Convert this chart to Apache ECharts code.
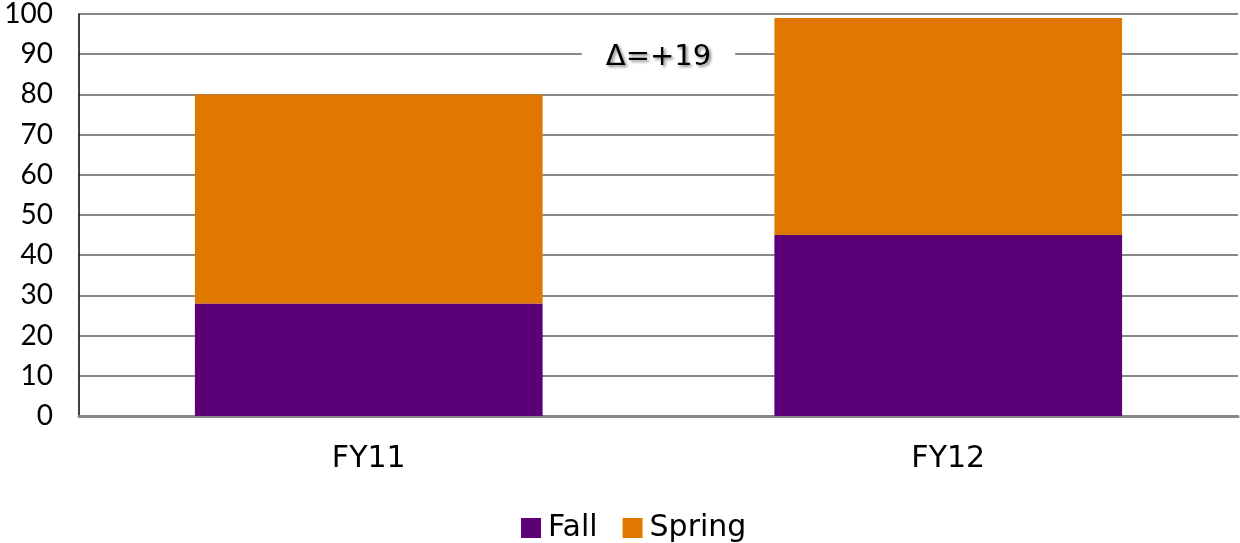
<!DOCTYPE html>
<html>
<head>
<meta charset="utf-8">
<style>
  html, body { margin: 0; padding: 0; background: #fff; }
  #chart { width: 1240px; height: 543px; }
</style>
<script src="https://cdn.jsdelivr.net/npm/echarts@6/dist/echarts.min.js"></script>
</head>
<body>
<div id="chart"></div>
<script>
const categories = ['FY11', 'FY12'];
const fallValues = [28, 45];
const springValues = [52, 54];
const deltaText = '\u0394=+19';

const NUM_FONT = 'Lato, "Noto Sans", sans-serif';
const TEXT_FONT = '"DejaVu Sans", sans-serif';
const chart = echarts.init(document.getElementById('chart'));

chart.setOption({
  animation: false,
  grid: { left: 79, right: 2, top: 14, bottom: 127 },
  legend: {
    top: 508,
    left: 516,
    itemWidth: 20,
    itemHeight: 20,
    itemGap: 25,
    icon: 'rect',
    textStyle: { fontFamily: TEXT_FONT, fontSize: 30, color: '#000', padding: [0, 0, 0, 2] },
    data: ['Fall', 'Spring']
  },
  xAxis: {
    type: 'category',
    data: categories,
    axisLine: { show: true, lineStyle: { color: '#888', width: 3 } },
    axisTick: { show: false },
    axisLabel: { fontFamily: TEXT_FONT, fontSize: 30, color: '#000', margin: 28 }
  },
  yAxis: {
    type: 'value',
    min: 0,
    max: 100,
    interval: 10,
    axisLine: { show: true, lineStyle: { color: '#000', width: 1.5 } },
    axisTick: { show: false },
    axisLabel: { fontFamily: NUM_FONT, fontSize: 28, color: '#000', margin: 26 },
    splitLine: { show: true, lineStyle: { color: '#888', width: 2 } }
  },
  series: [
    {
      name: 'Fall',
      type: 'bar',
      stack: 'total',
      barWidth: '60%',
      itemStyle: { color: '#5B0076' },
      data: fallValues
    },
    {
      name: 'Spring',
      type: 'bar',
      stack: 'total',
      barWidth: '60%',
      itemStyle: { color: '#E07800' },
      data: springValues
    }
  ]
});

// Place the change annotation between the two bars, on the 90 gridline.
const left = chart.convertToPixel({ xAxisIndex: 0 }, categories[0]);
const right = chart.convertToPixel({ xAxisIndex: 0 }, categories[1]);
const yPix = chart.convertToPixel({ yAxisIndex: 0 }, 90);
chart.setOption({
  graphic: [{
    type: 'text',
    x: (left + right) / 2,
    y: yPix + 3,
    z: 100,
    style: {
      text: deltaText,
      fontFamily: TEXT_FONT,
      fontSize: 29,
      fill: '#000',
      align: 'center',
      verticalAlign: 'middle',
      backgroundColor: '#fff',
      padding: [6, 24, 6, 24],
      textShadowColor: 'rgba(0,0,0,0.45)',
      textShadowBlur: 3,
      textShadowOffsetX: 2,
      textShadowOffsetY: 2
    }
  }]
});
</script>
</body>
</html>
